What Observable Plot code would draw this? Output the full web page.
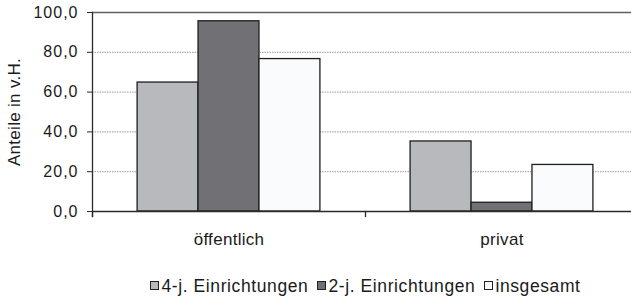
<!DOCTYPE html>
<html>
<head>
<meta charset="utf-8">
<script src="https://cdn.jsdelivr.net/npm/d3@7"></script>
<script src="https://cdn.jsdelivr.net/npm/@observablehq/plot@0.6"></script>
<style>
  html, body { margin: 0; padding: 0; background: #fff; overflow: hidden; }
  #chart { position: relative; width: 631px; height: 300px; font-family: "Liberation Sans", Arial, sans-serif; color: #1a1a1a; }
  #chart svg { display: block; }
  g[aria-label="y-axis tick label"] text { letter-spacing: 1px; }
  g[aria-label="fx-axis tick label"] text { letter-spacing: 0.3px; }
  g[aria-label="y-axis label"] { font-size: 17px !important; }
  g[aria-label="y-axis label"] text { letter-spacing: 0.3px; font-size: 17px !important; }
  #legend { position: absolute; left: 0; width: 731px; top: 276px; height: 20px; line-height: 20px;
            display: flex; justify-content: center; font-size: 17.5px; letter-spacing: 0.6px; white-space: nowrap; }
  #legend .item { margin: 0 4.5px; }
  #legend .sw { display: inline-block; width: 9px; height: 9px; box-sizing: border-box; border: 1px solid #222;
                margin-right: 2px; margin-bottom: 2px; vertical-align: baseline; }
</style>
</head>
<body>
<div id="chart"></div>
<script>
// ---- data ----
const categories = ["öffentlich", "privat"];
const series = ["4-j. Einrichtungen", "2-j. Einrichtungen", "insgesamt"];
const vierJ = [64.8, 35.2];
const zweiJ = [95.6, 4.4];
const insgesamt = [76.6, 23.4];
const yTicks = [0, 20, 40, 60, 80, 100];
const gridTicks = [20, 40, 60, 80];
const yLabel = "Anteile in v.H.";
const colors = ["#b8b9bc", "#717074", "#fafbfd"];

const seriesValues = [vierJ, zweiJ, insgesamt];
const data = [];
categories.forEach((c, ci) => series.forEach((s, si) => data.push({cat: c, series: s, value: seriesValues[si][ci]})));

const W = 631, H = 268, mTop = 12, mBottom = 57, mLeft = 92, mRight = -7;
const innerH = H - mTop - mBottom;
const fmt = d => d.toFixed(1).replace(".", ",");

const chart = Plot.plot({
  width: W, height: H,
  marginTop: mTop, marginBottom: mBottom, marginLeft: mLeft, marginRight: mRight,
  style: {fontFamily: "'Liberation Sans', Arial, sans-serif", color: "#1a1a1a", background: "#fff", overflow: "hidden"},
  fx: {domain: categories, padding: 0, round: false},
  x: {domain: series, paddingInner: 0, paddingOuter: 0.74, round: false, axis: null},
  y: {domain: [0, 100]},
  color: {domain: series, range: colors},
  marks: [
    Plot.ruleY(gridTicks, {stroke: "#9a9a9a", strokeWidth: 1, strokeDasharray: "1.5,1"}),
    Plot.ruleY([100], {stroke: "#606060", strokeWidth: 1.5}),
    Plot.barY(data, {fx: "cat", x: "series", y: "value", fill: "series", stroke: "#1e1e1e", strokeWidth: 1.3}),
    Plot.ruleY([0], {stroke: "#2a2a2a", strokeWidth: 1.4}),
    Plot.frame({anchor: "left", facetAnchor: "left", insetBottom: -5, stroke: "#2a2a2a", strokeWidth: 1.3}),
    Plot.frame({anchor: "left", insetTop: innerH, insetBottom: -5, stroke: "#2a2a2a", strokeWidth: 1.3}),
    Plot.axisY({ticks: yTicks, tickFormat: fmt, tickSize: 5, tickPadding: 9, fontSize: 16, stroke: "#2a2a2a",
                label: yLabel, labelAnchor: "center", labelOffset: 85, labelArrow: "none"}),
    Plot.axisFx({anchor: "bottom", tickSize: 0, tickPadding: 21, fontSize: 17, label: null})
  ]
});
document.getElementById("chart").appendChild(chart);

// legend
const legend = document.createElement("div");
legend.id = "legend";
series.forEach((s, i) => {
  const item = document.createElement("span");
  item.className = "item";
  const sw = document.createElement("span");
  sw.className = "sw";
  sw.style.background = colors[i];
  item.appendChild(sw);
  item.appendChild(document.createTextNode(s));
  legend.appendChild(item);
});
document.getElementById("chart").appendChild(legend);
</script>
</body>
</html>
